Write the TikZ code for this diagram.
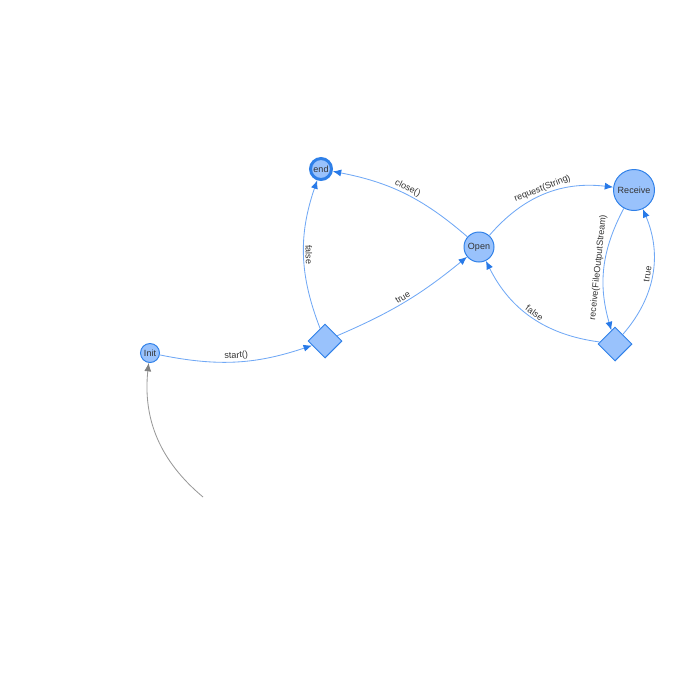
\documentclass[tikz,border=0pt]{standalone}
\usepackage{fontspec}
\setmainfont{Liberation Sans}
\usetikzlibrary{arrows.meta, shapes.geometric}
\definecolor{stateFill}{RGB}{153, 194, 252}
\definecolor{stateLine}{RGB}{47, 128, 232}
\definecolor{edgeLine}{RGB}{112, 168, 245}
\definecolor{tipBlue}{RGB}{40, 122, 232}
\definecolor{labelText}{RGB}{51, 51, 51}

\begin{document}
\begin{tikzpicture}[x=0.025cm, y=0.025cm, font=\fontsize{6.4}{7.5}\selectfont,
        state/.style={circle, draw=stateLine, fill=stateFill, line width=0.7pt, inner sep=0pt, text=labelText},
        choice/.style={diamond, draw=stateLine, fill=stateFill, line width=0.7pt, inner sep=0pt, minimum size=0.85cm},
        flow/.style={draw=edgeLine, line width=0.6pt, -{Latex[length=6pt, width=5pt, color=tipBlue]}},
        entryflow/.style={draw=black!40, line width=0.6pt, -{Latex[length=6pt, width=5pt, color=black!50]}},
        lbl/.style={sloped, above, inner sep=1pt, text=labelText}]
        \useasboundingbox (0,0) rectangle (698,-698);
        % states
        \node[state, minimum size=0.475cm] (init) at (150,-353) {Init};
        \node[choice] (choiceA) at (325,-341) {};
        \node[state, minimum size=0.525cm, line width=2.1pt] (endS) at (321,-169) {end};
        \node[state, minimum size=0.75cm] (open) at (479,-247) {Open};
        \node[state, minimum size=1.025cm] (receive) at (634,-190) {Receive};
        \node[choice] (choiceB) at (615,-344) {};
        % transitions
        \coordinate (entry) at (203,-497);
        \draw[entryflow] (entry) to[bend left=28] (init);
        \foreach \from/\to/\ang/\txt in {
            init/choiceA/-15/{start()},
            choiceA/endS/20/{false},
            choiceA/open/-8/{true},
            open/endS/-15/{close()},
            open/receive/28/{request(String)},
            receive/choiceB/-22/{receive(FileOutputStream)},
            choiceB/receive/-32/{true},
            choiceB/open/28/{false}}
        {
            \draw[flow] (\from) to[bend left=\ang] node[lbl] {\txt} (\to);
        }
    \end{tikzpicture}
\end{document}
